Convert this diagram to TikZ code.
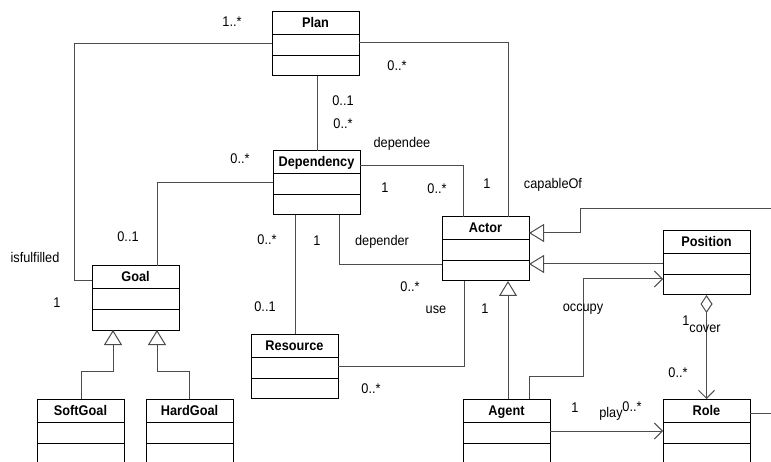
\documentclass[tikz,border=0pt]{standalone}
\usepackage{fontspec}
\setmainfont{Liberation Sans}[FakeStretch=0.91]
\usetikzlibrary{arrows.meta}
\tikzset{
  cls/.style={draw=black, fill=white, rectangle, anchor=north west, minimum width=87pt,
    minimum height=64pt, inner sep=0pt, outer sep=0pt, line width=1pt},
  clsopen/.style={cls, minimum height=90pt},
  sepline/.style={draw=black, line width=1pt},
  clstitle/.style={anchor=base, inner sep=0pt, font=\fontsize{14}{16}\selectfont\bfseries},
  lbl/.style={anchor=base, inner sep=0pt, font=\fontsize{14}{16}\selectfont},
  conn/.style={draw=black!70, line width=1pt},
  gen/.style={conn, -{Triangle[open, length=15pt, width=18pt, fill=white]}},
  nav/.style={conn, -{Straight Barb[length=8pt, width=16pt]}},
  agg/.style={conn, {Diamond[open, length=18pt, width=12pt, fill=white]}-{Straight Barb[length=8pt, width=16pt]}}
}
\newcommand{\umlcls}[5]{% style, name, left, top, title
  \node[#1] (#2) at (#3,#4) {};
  \draw[sepline] ([yshift=-23pt]#2.north west) -- ([yshift=-23pt]#2.north east);
  \draw[sepline] ([yshift=-44pt]#2.north west) -- ([yshift=-44pt]#2.north east);
  \node[clstitle] (#2-t) at ([yshift=-16pt]#2.north) {#5};
}
\begin{document}
\begin{tikzpicture}[x=1pt, y=-1pt]
\useasboundingbox (0,0) rectangle (771,462);
\clip (0,0) rectangle (771,462);

% classes
\umlcls{cls}{Plan}{272}{12}{Plan}
\umlcls{cls}{Dependency}{273}{151}{Dependency}
\umlcls{cls}{Goal}{92}{266}{Goal}
\umlcls{cls}{Actor}{442}{217}{Actor}
\umlcls{cls}{Position}{663}{231}{Position}
\umlcls{cls}{Resource}{251}{334}{Resource}
\umlcls{clsopen}{SoftGoal}{37}{399}{SoftGoal}
\umlcls{clsopen}{HardGoal}{146}{399}{HardGoal}
\umlcls{clsopen}{Agent}{463}{399}{Agent}
\umlcls{clsopen}{Role}{663}{399}{Role}

\coordinate (offA) at (771,209);
\coordinate (offR) at (771,413);

% connectors
\draw[conn] (Plan.west |- 0,44) -- (74,44) -- (74,281) -- (Goal.west |- 0,281);
\draw[conn] (Plan.east |- 0,43) -- (508,43) -- (Actor.north -| 508,0);
\draw[conn] (Plan.south -| 317,0) -- (Dependency.north -| 317,0);
\draw[conn] (Dependency.east |- 0,166) -- (463,166) -- (Actor.north -| 463,0);
\draw[conn] (Dependency.west |- 0,183) -- (157,183) -- (Goal.north -| 157,0);
\draw[conn] (Dependency.south -| 339,0) -- (339,265) -- (Actor.west |- 0,265);
\draw[conn] (Dependency.south -| 295,0) -- (Resource.north -| 295,0);
\draw[conn] (Resource.east |- 0,366) -- (464,366) -- (Actor.south -| 464,0);
\draw[gen] (Agent.north -| 508,0) -- (Actor.south -| 508,0);
\draw[gen] (SoftGoal.north -| 81,0) -- (81,371) -- (113,371) -- (Goal.south -| 113,0);
\draw[gen] (HardGoal.north -| 189,0) -- (189,371) -- (157,371) -- (Goal.south -| 157,0);
\draw[gen] (Position.west |- 0,264) -- (Actor.east |- 0,264);
\draw[gen] (offA) -- (580,209) -- (580,233) -- (Actor.east |- 0,233);
\draw[nav] (Agent.north -| 529,0) -- (529,376) -- (583,376) -- (583,279) -- (Position.west |- 0,279);
\draw[agg] (Position.south) -- (Role.north);
\draw[nav] (Agent.east |- 0,431) -- (Role.west |- 0,431);
\draw[conn] (Role.east |- 0,413) -- (offR);

% labels
\node[lbl] (l1) at (232,27) {1..*};
\node[lbl] (l2) at (397,71) {0..*};
\node[lbl] (l3) at (343,106) {0..1};
\node[lbl] (l4) at (343,129) {0..*};
\node[lbl] (l5) at (402,148) {dependee};
\node[lbl] (l6) at (240,164) {0..*};
\node[lbl] (l7) at (128,242) {0..1};
\node[lbl] (l8) at (35,263) {isfulfilled};
\node[lbl] (l9) at (57,308) {1};
\node[lbl] (l10) at (385,193) {1};
\node[lbl] (l11) at (437,194) {0..*};
\node[lbl] (l12) at (487,189) {1};
\node[lbl] (l13) at (553,189) {capableOf};
\node[lbl] (l14) at (267,245) {0..*};
\node[lbl] (l15) at (317,246) {1};
\node[lbl] (l16) at (382,246) {depender};
\node[lbl] (l17) at (410,292) {0..*};
\node[lbl] (l18) at (265,312) {0..1};
\node[lbl] (l19) at (436,314) {use};
\node[lbl] (l20) at (485,314) {1};
\node[lbl] (l21) at (583,312) {occupy};
\node[lbl] (l22) at (686,325) {1};
\node[lbl] (l23) at (705,333) {cover};
\node[lbl] (l24) at (678,377) {0..*};
\node[lbl] (l25) at (371,393) {0..*};
\node[lbl] (l26) at (575,412) {1};
\node[lbl] (l27) at (611,417) {play};
\node[lbl] (l28) at (632,411) {0..*};
\end{tikzpicture}
\end{document}
